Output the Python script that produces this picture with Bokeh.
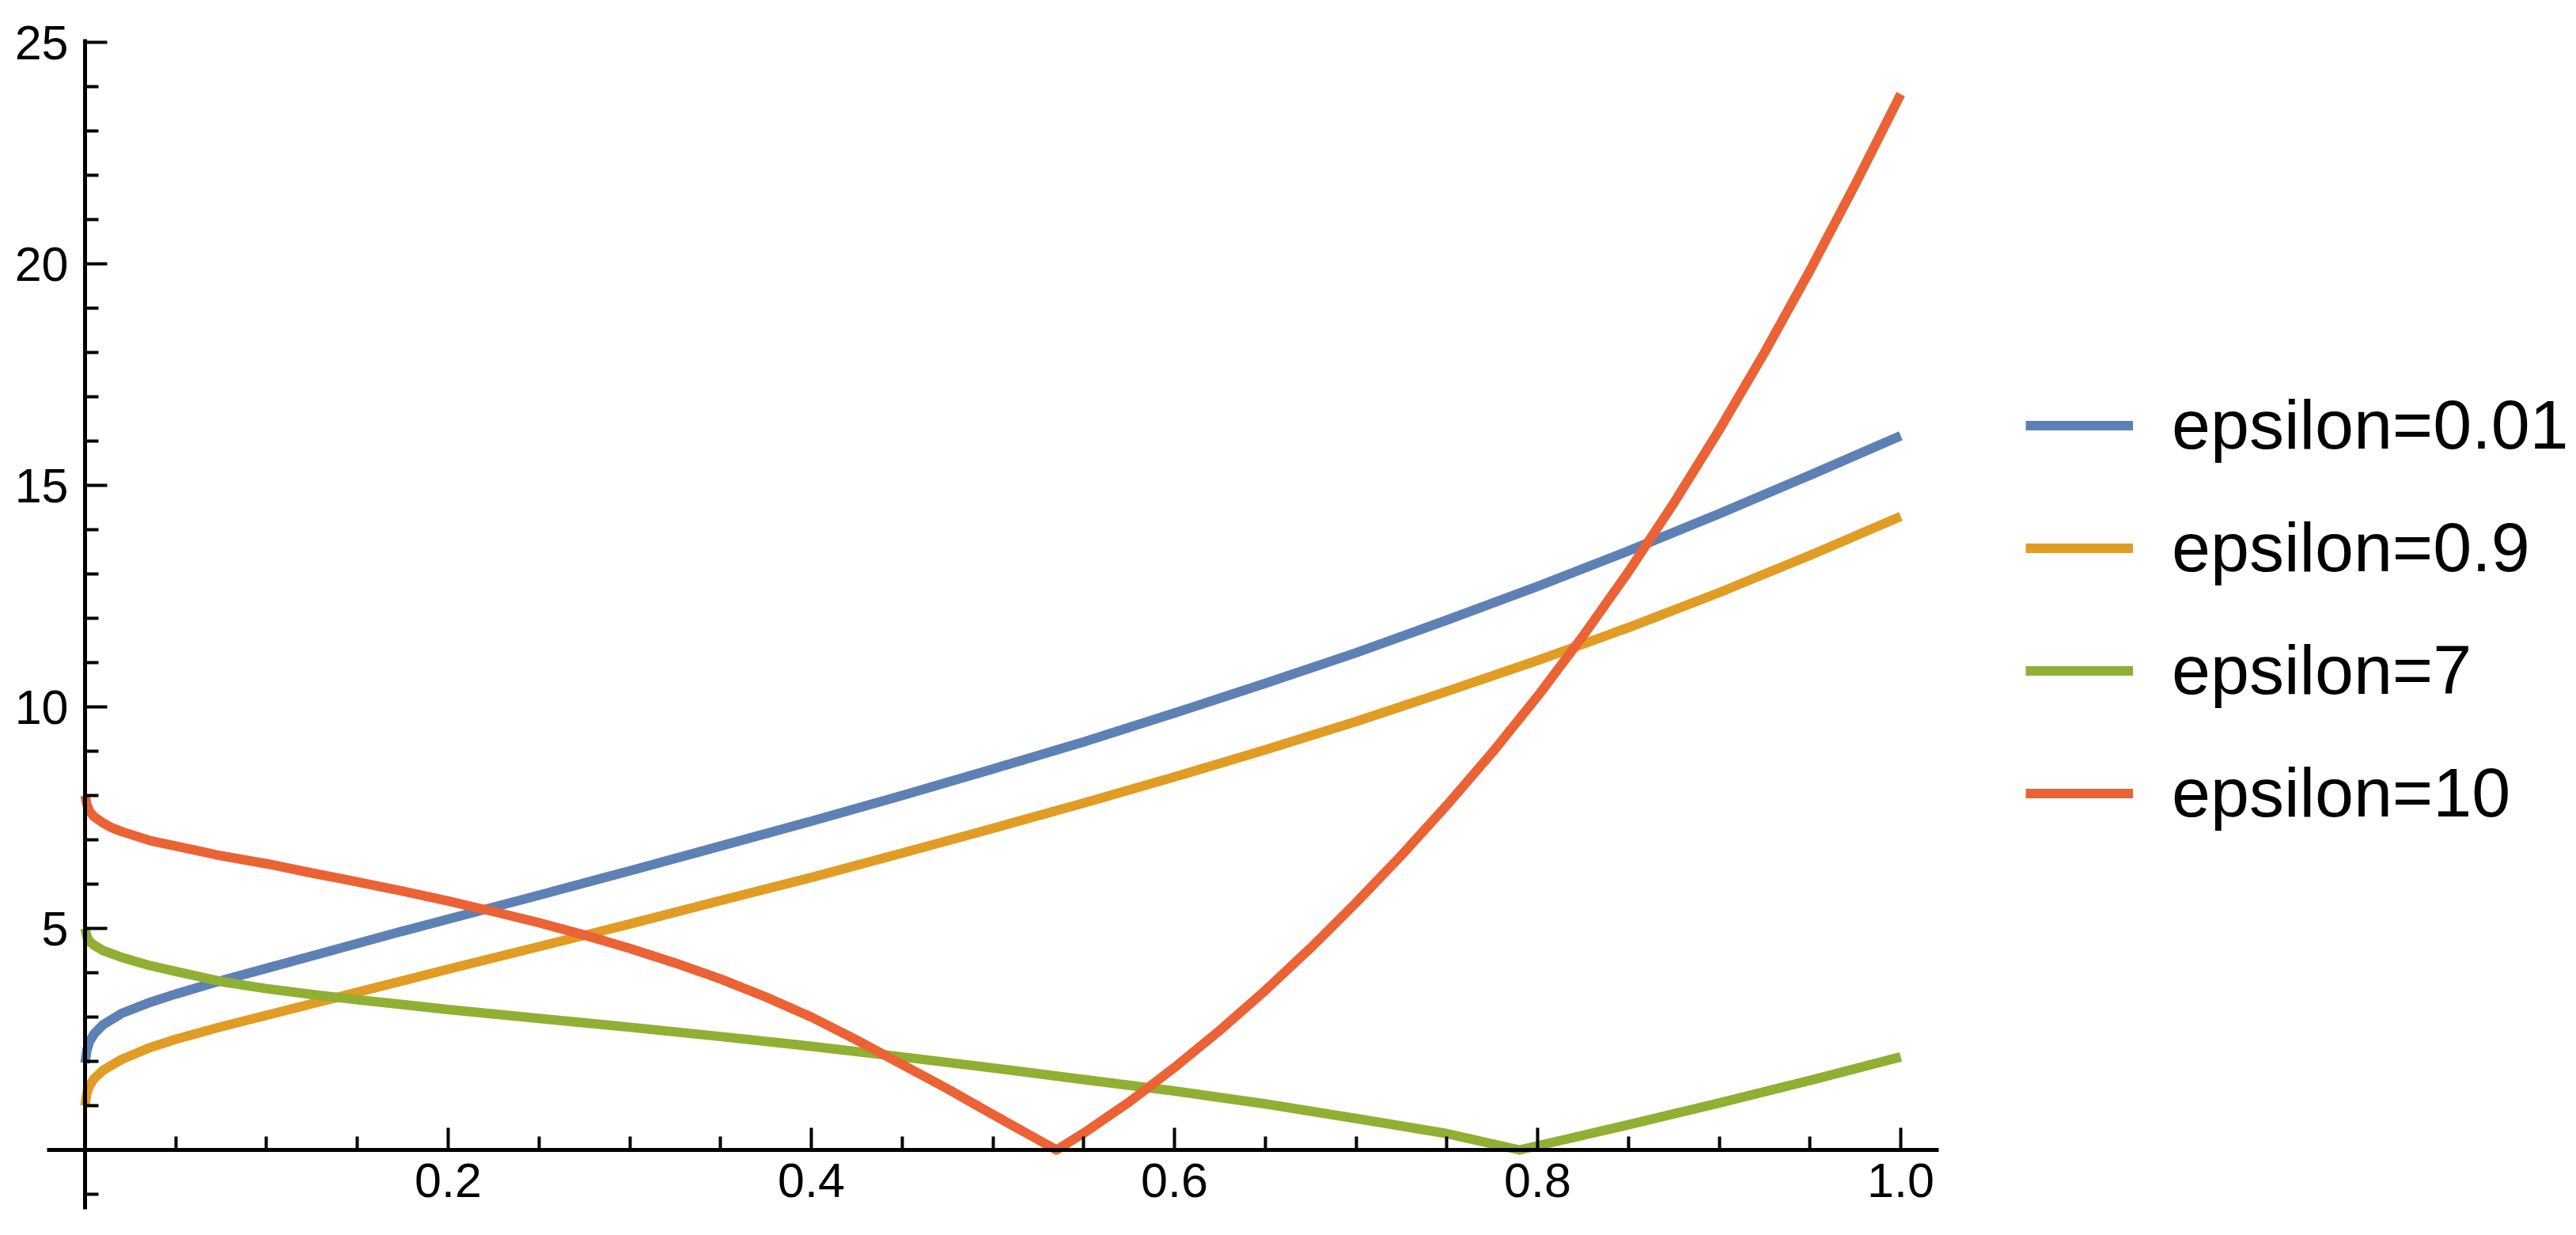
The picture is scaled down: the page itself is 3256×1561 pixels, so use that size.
from bokeh.plotting import figure
from bokeh.models import FixedTicker, PrintfTickFormatter, Legend, LegendItem, Range1d
from bokeh.embed import file_html
from bokeh.resources import INLINE

# ---- data ----
x_blue = [0, 0.001, 0.0025, 0.005, 0.01, 0.02, 0.035, 0.05, 0.075, 0.1, 0.125, 0.15, 0.175, 0.2,
          0.25, 0.3, 0.35, 0.4, 0.45, 0.5, 0.55, 0.6, 0.65, 0.7, 0.75, 0.8, 0.85, 0.9, 0.95, 1.0]
y_blue = [1.96, 2.25, 2.45, 2.62, 2.83, 3.08, 3.32, 3.52, 3.82, 4.1, 4.38, 4.66, 4.94, 5.21,
          5.75, 6.3, 6.86, 7.42, 8.0, 8.6, 9.21, 9.86, 10.53, 11.22, 11.96, 12.72, 13.52, 14.36, 15.23, 16.12]

x_orange = [0, 0.001, 0.0025, 0.005, 0.01, 0.02, 0.035, 0.05, 0.075, 0.1, 0.125, 0.15, 0.175, 0.2,
            0.25, 0.3, 0.35, 0.4, 0.45, 0.5, 0.55, 0.6, 0.65, 0.7, 0.75, 0.8, 0.85, 0.9, 0.95, 1.0]
y_orange = [1.0, 1.28, 1.45, 1.61, 1.8, 2.04, 2.3, 2.5, 2.78, 3.04, 3.3, 3.56, 3.82, 4.08,
            4.59, 5.1, 5.63, 6.15, 6.7, 7.26, 7.83, 8.42, 9.03, 9.67, 10.35, 11.05, 11.79, 12.58, 13.42, 14.3]

x_green = [0, 0.001, 0.0025, 0.005, 0.01, 0.02, 0.035, 0.05, 0.075, 0.1, 0.125, 0.15, 0.175, 0.2,
           0.25, 0.3, 0.35, 0.4, 0.45, 0.5, 0.55, 0.6, 0.65, 0.7, 0.75, 0.79,
           0.825, 0.85, 0.9, 0.95, 1.0]
y_green = [5.0, 4.82, 4.7, 4.62, 4.5, 4.35, 4.17, 4.03, 3.8, 3.64, 3.51, 3.39, 3.28, 3.17,
           2.97, 2.77, 2.56, 2.34, 2.1, 1.85, 1.59, 1.33, 1.04, 0.71, 0.37, 0.0,
           0.33, 0.57, 1.06, 1.57, 2.1]

x_red = [0, 0.001, 0.0025, 0.005, 0.01, 0.0143, 0.02, 0.036, 0.05, 0.0725, 0.1, 0.125, 0.145,
         0.175, 0.2, 0.225, 0.25, 0.275, 0.3, 0.325, 0.35, 0.375, 0.4, 0.425, 0.45, 0.475, 0.5,
         0.525, 0.535, 0.55, 0.575, 0.6, 0.625, 0.65, 0.675, 0.7, 0.725, 0.75, 0.775, 0.8,
         0.825, 0.85, 0.875, 0.9, 0.925, 0.95, 0.975, 1.0]
y_red = [8.0, 7.8, 7.64, 7.52, 7.38, 7.28, 7.19, 6.98, 6.86, 6.66, 6.46, 6.25, 6.09,
         5.84, 5.62, 5.38, 5.13, 4.85, 4.55, 4.22, 3.86, 3.45, 3.0, 2.48, 1.93, 1.38, 0.8,
         0.23, 0.0, 0.38, 1.08, 1.86, 2.7, 3.6, 4.56, 5.58, 6.65, 7.78, 8.97, 10.24,
         11.6, 13.05, 14.6, 16.25, 18.0, 19.85, 21.8, 23.83]

labels = ["epsilon=0.01", "epsilon=0.9", "epsilon=7", "epsilon=10"]
colors = ["#5E81B5", "#E19C24", "#8FB032", "#EB6235"]

x_ticks = [0.2, 0.4, 0.6, 0.8, 1.0]
x_minor = [0.05, 0.1, 0.15, 0.25, 0.3, 0.35, 0.45, 0.5, 0.55, 0.65, 0.7, 0.75, 0.85, 0.9, 0.95]
y_ticks = [5, 10, 15, 20, 25]
y_minor = [-1, 1, 2, 3, 4, 6, 7, 8, 9, 11, 12, 13, 14, 16, 17, 18, 19, 21, 22, 23, 24]

FONT = "Liberation Sans"

p = figure(frame_width=3248, frame_height=1545,
           min_border_left=0, min_border_right=0, min_border_top=0, min_border_bottom=0,
           x_range=Range1d(-0.046623, 1.368627), y_range=Range1d(-1.642857, 25.946429),
           output_backend="svg", toolbar_location=None)

p.background_fill_color = "white"
p.border_fill_color = "white"
p.outline_line_color = None
p.xgrid.grid_line_color = None
p.ygrid.grid_line_color = None

series = [(x_blue, y_blue), (x_orange, y_orange), (x_green, y_green), (x_red, y_red)]
renderers = []
for (xs, ys), c in zip(series, colors):
    r = p.line(xs, ys, line_color=c, line_width=12, line_join="round", line_cap="butt")
    renderers.append(r)

for ax in (p.xaxis, p.yaxis):
    ax.fixed_location = 0
    ax.axis_line_width = 5
    ax.axis_line_color = "black"
    ax.major_tick_line_width = 4
    ax.minor_tick_line_width = 4
    ax.major_tick_line_color = "black"
    ax.minor_tick_line_color = "black"
    ax.major_tick_in = 28
    ax.major_tick_out = 0
    ax.minor_tick_in = 17
    ax.minor_tick_out = 0
    ax.major_label_text_font = FONT
    ax.major_label_text_font_size = "61px"
    ax.major_label_text_color = "black"

p.xaxis.bounds = (-0.021, 1.021)
p.yaxis.bounds = (-1.34, 25.07)
p.xaxis.ticker = FixedTicker(ticks=x_ticks, minor_ticks=x_minor)
p.xaxis.formatter = PrintfTickFormatter(format="%.1f")
p.xaxis.major_label_standoff = 17
p.yaxis.ticker = FixedTicker(ticks=y_ticks, minor_ticks=y_minor)
p.yaxis.major_label_standoff = 21

items = [LegendItem(label=l, renderers=[r]) for l, r in zip(labels, renderers)]
legend = Legend(items=items, location=(2560, 465.5), orientation="vertical",
                glyph_width=136, glyph_height=155, label_height=155, label_standoff=49,
                spacing=0, padding=0, margin=0,
                border_line_color=None, background_fill_alpha=0,
                label_text_font=FONT, label_text_font_size="88px", label_text_color="black")
p.add_layout(legend, "center")

open("out.html", "w").write(file_html(p, INLINE))
